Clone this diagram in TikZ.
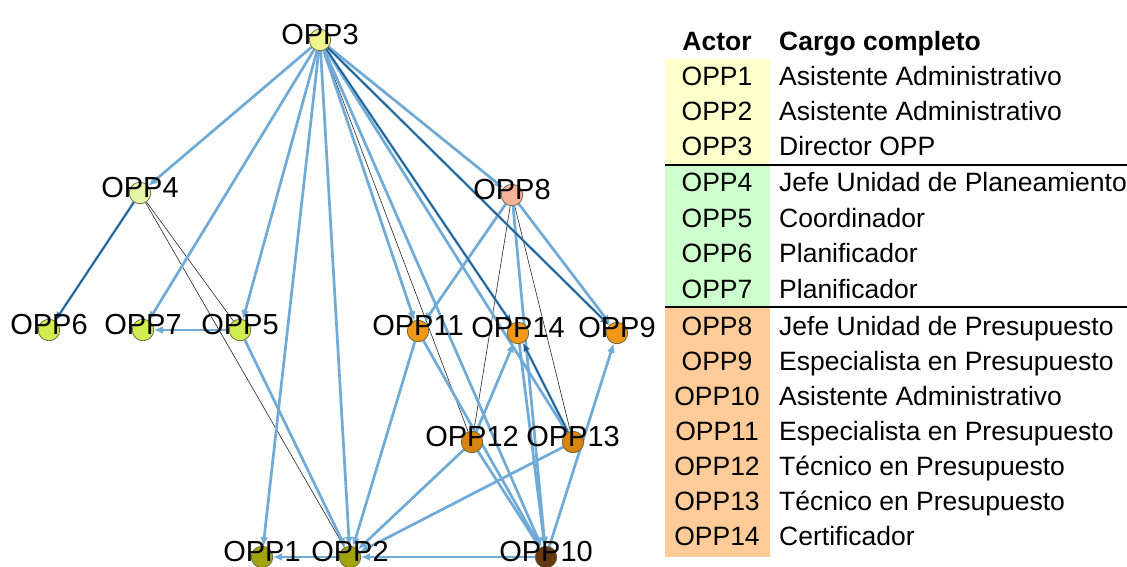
\documentclass[tikz,border=0pt]{standalone}
\usepackage{fontspec}
\setmainfont{Liberation Sans}
\usetikzlibrary{arrows.meta,backgrounds}

\definecolor{edgelight}{RGB}{112,170,214}
\definecolor{edgedark}{RGB}{28,88,138}
\definecolor{actorline}{RGB}{95,95,60}
\definecolor{cellyellow}{RGB}{255,255,204}
\definecolor{cellgreen}{RGB}{204,255,204}
\definecolor{cellorange}{RGB}{255,204,153}
\definecolor{cdirector}{RGB}{240,244,140}
\definecolor{cjefeplan}{RGB}{228,246,165}
\definecolor{cplan}{RGB}{208,236,80}
\definecolor{cjefepres}{RGB}{246,178,152}
\definecolor{cespec}{RGB}{242,152,22}
\definecolor{ctecnico}{RGB}{216,132,16}
\definecolor{casist}{RGB}{162,164,12}
\definecolor{casistpres}{RGB}{102,56,16}

\begin{document}
\begin{tikzpicture}[x=1pt,y=-1pt,
  actor/.style={circle,draw=actorline,line width=0.7pt,minimum size=21.5pt,inner sep=0pt},
  lbl/.style={anchor=base,inner sep=0pt,font=\fontsize{29}{31}\selectfont},
  rel/.style={draw=edgelight,line width=2.7pt,-{Latex[length=9pt,width=8pt]}},
  relstrong/.style={draw=edgedark,line width=1.3pt,-{Latex[length=8pt,width=6pt]}},
  tie/.style={draw=black!85,line width=0.6pt},
  cell/.style={anchor=base,inner sep=0pt,font=\fontsize{26.5}{28}\selectfont},
  celltext/.style={cell,anchor=base west}
]
\path[use as bounding box] (0,0) rectangle (1127,566);

% actors of the network
\node[actor,fill=cdirector]  (n3)  at (320,40)  {};
\node[actor,fill=cjefeplan]  (n4)  at (140,193) {};
\node[actor,fill=cjefepres]  (n8)  at (512,195) {};
\node[actor,fill=cplan]      (n6)  at (49,330)  {};
\node[actor,fill=cplan]      (n7)  at (143,330) {};
\node[actor,fill=cplan]      (n5)  at (240,330) {};
\node[actor,fill=cespec]     (n11) at (418,331) {};
\node[actor,fill=cespec]     (n14) at (518,333) {};
\node[actor,fill=cespec]     (n9)  at (617,333) {};
\node[actor,fill=ctecnico]   (n12) at (472,442) {};
\node[actor,fill=ctecnico]   (n13) at (573,442) {};
\node[actor,fill=casist]     (n1)  at (262,557) {};
\node[actor,fill=casist]     (n2)  at (350,557) {};
\node[actor,fill=casistpres] (n10) at (546,557) {};

\begin{scope}[on background layer]
  \fill[white] (0,0) rectangle (1127,566);
  % thin black ties
  \draw[tie] (n3) -- (n12);
  \draw[tie] (n4) -- (n5);
  \draw[tie] (n4) -- (n2);
  \draw[tie] (n8) -- (n12);
  \draw[tie] (n8) -- (n13);
  % directed relations
  \draw[rel] (n3) -- (n4);
  \draw[rel] (n3) -- (n7);
  \draw[rel] (n3) -- (n5);
  \draw[rel] (n3) -- (n1);
  \draw[rel] (n3) -- (n2);
  \draw[rel] (n3) -- (n11);
  \draw[rel] (n3) -- (n10);
  \draw[rel] (n3) -- (n13);
  \draw[rel] (n3) -- (n8);
  \draw[rel] (n3) -- (n14);
  \draw[rel] (n3) -- (n9);
  \draw[rel] (n4) -- (n6);
  \draw[rel] (n5) -- (n7);
  \draw[rel] (n5) -- (n2);
  \draw[rel] (n8) -- (n11);
  \draw[rel] (n8) -- (n9);
  \draw[rel] (n8) -- (n10);
  \draw[rel] (n11) -- (n2);
  \draw[rel] (n11) -- (n10);
  \draw[rel] (n12) -- (n14);
  \draw[rel] (n12) -- (n2);
  \draw[rel] (n12) -- (n10);
  \draw[rel] (n13) -- (n2);
  \draw[rel] (n13) -- (n14);
  \draw[rel] (n14) -- (n10);
  \draw[rel] (n10) -- (n9);
  \draw[rel] (n10) -- (n2);
  \draw[rel] (n2) -- (n1);
  % stronger relations
  \draw[relstrong] (n3) -- (n14);
  \draw[relstrong] (n3) -- (n9);
  \draw[relstrong] (n4) -- (n6);
  \draw[relstrong] (n13) -- (n14);
\end{scope}

% actor labels
\node[lbl] (l3)  at (320,44.5)  {OPP3};
\node[lbl] (l4)  at (140,197.5) {OPP4};
\node[lbl] (l8)  at (512,199.5) {OPP8};
\node[lbl] (l6)  at (49,334.5)  {OPP6};
\node[lbl] (l7)  at (143,334.5) {OPP7};
\node[lbl] (l5)  at (240,334.5) {OPP5};
\node[lbl] (l11) at (418,335.5) {OPP11};
\node[lbl] (l14) at (518,337.5) {OPP14};
\node[lbl] (l9)  at (617,337.5) {OPP9};
\node[lbl] (l12) at (472,446.5) {OPP12};
\node[lbl] (l13) at (573,446.5) {OPP13};
\node[lbl] (l1)  at (262,561.5) {OPP1};
\node[lbl] (l2)  at (350,561.5) {OPP2};
\node[lbl] (l10) at (546,561.5) {OPP10};

% legend table
\fill[cellyellow] (665,59)  rectangle (770,164);
\fill[cellgreen]  (665,166) rectangle (770,306);
\fill[cellorange] (665,308) rectangle (770,557);
\draw[line width=2pt] (665,165) -- (1127,165);
\draw[line width=2pt] (665,307) -- (1127,307);

\node[cell,font=\fontsize{26.5}{28}\selectfont\bfseries] (hactor) at (717,50) {Actor};
\node[celltext,font=\fontsize{26.5}{28}\selectfont\bfseries] (hcargo) at (779,50) {Cargo completo};

\foreach \i/\yb/\desc in {
  1/85.5/Asistente Administrativo,
  2/120.5/Asistente Administrativo,
  3/155.5/Director OPP,
  4/191.5/Jefe Unidad de Planeamiento,
  5/227/Coordinador,
  6/262.5/Planificador,
  7/298/Planificador,
  8/335.5/Jefe Unidad de Presupuesto,
  9/370.5/Especialista en Presupuesto,
  10/405.5/Asistente Administrativo,
  11/440.5/Especialista en Presupuesto,
  12/475.5/Técnico en Presupuesto,
  13/510.5/Técnico en Presupuesto,
  14/545.5/Certificador}{
  \node[cell] (a\i) at (717,\yb) {OPP\i};
  \node[celltext] (d\i) at (779,\yb) {\desc};
}
\end{tikzpicture}
\end{document}
